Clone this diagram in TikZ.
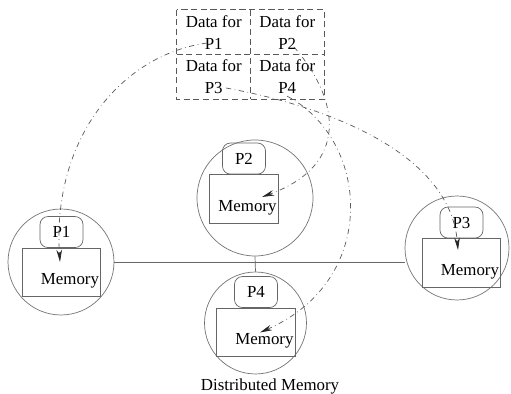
\documentclass[tikz,border=0pt]{standalone}
\usepackage{fontspec}
\setmainfont{Liberation Serif}
\usetikzlibrary{arrows.meta}

\begin{document}
\begin{tikzpicture}[x=0.02cm, y=-0.02cm,
  font=\fontsize{9.6}{12.5}\selectfont,
  pcircle/.style={circle, draw=black!55, thin, minimum size=#1, inner sep=0pt},
  proc/.style={draw=black!60, thin, rounded corners=4.5pt, minimum width=0.86cm,
               minimum height=0.62cm, inner sep=0pt},
  mem/.style={draw=black!60, thin, minimum height=0.97cm, text width=#1,
              align=right, inner xsep=1pt, text height=16pt, text depth=2pt},
  cell/.style={minimum width=1.47cm, minimum height=0.89cm, align=center, inner sep=0pt},
  grid/.style={draw=black!65, thin, dash pattern=on 3.5pt off 2pt},
  wire/.style={draw=black!60, thin},
  flow/.style={-{Stealth[length=7pt,width=3.2pt,black!85]}, black!65, thin, dash dot}
]
  \useasboundingbox (0,0) rectangle (511,394);

  % Data blocks
  \node[cell] (d1) at (213.75,32.25) {Data for\\P1};
  \node[cell] (d2) at (287.25,32.25) {Data for\\P2};
  \node[cell] (d3) at (213.75,76.75) {Data for\\P3};
  \node[cell] (d4) at (287.25,76.75) {Data for\\P4};
  \draw[grid] (d1.north west) rectangle (d4.south east);
  \draw[grid] (d1.north east) -- (d3.south east);
  \draw[grid] (d1.south west) -- (d2.south east);

  % Processors with local memory
  \node[pcircle=2.12cm] (c1) at (61,262) {};
  \node[pcircle=2.32cm] (c2) at (255,198) {};
  \node[pcircle=2.08cm] (c3) at (457,248) {};
  \node[pcircle=2.04cm] (c4) at (255.5,323) {};

  \node[mem=1.50cm] (m1) at (61.5,272.5) {Memory};
  \node[mem=1.30cm] (m2) at (244,199) {Memory};
  \node[mem=1.50cm] (m3) at (461.5,263) {Memory};
  \node[mem=1.50cm] (m4) at (256,332.5) {Memory};

  \node[proc, anchor=south] (p1) at (m1.north) {P1};
  \node[proc, anchor=south] (p2) at (m2.north) {P2};
  \node[proc, anchor=south] (p3) at (m3.north) {P3};
  \node[proc, anchor=south] (p4) at (m4.north) {P4};

  % Interconnect
  \draw[wire] (c1.east) -- (c1.east -| c3.west);
  \draw[wire] (c2.south) -- (c4.north);

  % Data distribution
  \draw[flow] ([shift={(-6.75,10.75)}]d1.center) .. controls (120,55) and (52,140) .. ([shift={(-1.5,-10.5)}]m1.center);
  \draw[flow] ([shift={(6.75,14.75)}]d2.center) .. controls (340,100) and (350,165) .. ([shift={(18,-2)}]m2.center);
  \draw[flow] ([shift={(12.25,11.25)}]d3.center) .. controls (320,105) and (450,150) .. ([shift={(-3.5,-13)}]m3.center);
  \draw[flow] ([shift={(0,19.5)}]d4.center) .. controls (370,140) and (380,280) .. ([shift={(4,0)}]m4.center);

  \node (caption) at (270,386) {Distributed Memory};
\end{tikzpicture}
\end{document}
